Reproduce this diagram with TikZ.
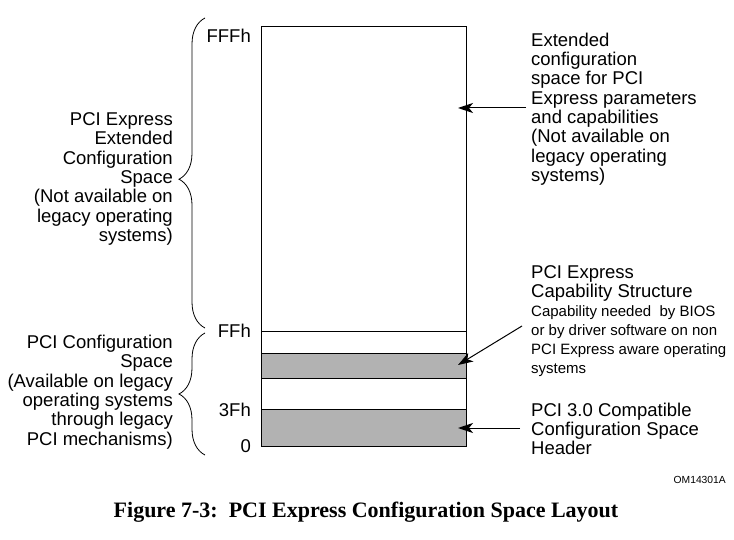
\documentclass[tikz,border=0pt]{standalone}
\usepackage{fontspec}
\setmainfont{Liberation Sans}
\newfontfamily\figserif{Liberation Serif}
\usetikzlibrary{arrows.meta,decorations.pathreplacing}

\begin{document}
\begin{tikzpicture}[x=1pt, y=-1pt,
      every node/.style = {inner sep=0pt, font=\fontsize{18.5}{19.3}\selectfont},
      region/.style = {draw, line width=1pt},
      shaded/.style = {region, fill=black!30},
      addr/.style = {anchor=east},
      lefttext/.style = {anchor=east, align=right},
      righttext/.style = {anchor=west, align=left},
      smalltext/.style = {font=\fontsize{15}{19}\selectfont},
      pointer/.style = {-{Stealth[length=15pt, width=10pt, inset=4pt]}, line width=1pt},
      span/.style = {decorate, line width=0.8pt,
        decoration={brace, amplitude=26pt, aspect=#1}},
      span/.default = 0.5]
    \useasboundingbox (0,0) rectangle (734,540);
    % configuration space map
    \draw[region] (261,27) rectangle (466,446);
    \draw[region] (261,331) -- (466,331);
    \draw[shaded] (261,353) rectangle (466,378);
    \draw[shaded] (261,409) rectangle (466,446);
    % offsets
    \node[addr] (fffh) at (251,36) {FFFh};
    \node[addr] (ffh) at (251,331) {FFh};
    \node[addr] (tfh) at (251,410) {3Fh};
    \node[addr] (zero) at (251,446) {0};
    % braces on the left
    \coordinate (extlow) at (205,328);
    \coordinate (exthigh) at (205,18);
    \coordinate (pcilow) at (205,455);
    \coordinate (pcihigh) at (205,333);
    \draw[span=0.48] (extlow) -- (exthigh);
    \draw[span] (pcilow) -- (pcihigh);
    \node[lefttext] (extspace) at (173,179) {PCI Express\\Extended\\Configuration\\Space\\(Not available on\\legacy operating\\systems)};
    \node[lefttext] (pcispace) at (173,392) {PCI Configuration\\Space\\(Available on legacy\\operating systems \\through legacy\\PCI mechanisms)};
    % notes on the right
    \node[righttext] (extnote) at (531,109) {Extended\\configuration\\space for PCI\\Express parameters\\and capabilities\\(Not available on\\legacy operating\\systems)};
    \node[righttext, anchor=north west] (captitle) at (531,265) {PCI Express\\Capability Structure};
    \node[righttext, smalltext, anchor=north west] (capnote) at (531,305) {Capability needed\ \ by BIOS\\or by driver software on non\\PCI Express aware operating\\systems};
    \node[righttext] (hdrnote) at (531,429) {PCI 3.0 Compatible\\Configuration Space\\Header};
    % pointers
    \coordinate (extfrom) at (526,108);
    \coordinate (extto) at (458,108);
    \coordinate (capfrom) at (522,326);
    \coordinate (capto) at (458,365);
    \coordinate (hdrfrom) at (520,428);
    \coordinate (hdrto) at (458,428);
    \draw[pointer] (extfrom) -- (extto);
    \draw[pointer] (capfrom) -- (capto);
    \draw[pointer] (hdrfrom) -- (hdrto);
    % figure id and caption
    \node[anchor=east, font=\fontsize{10.3}{12}\selectfont] (figid) at (726,480) {OM14301A};
    \node[font=\figserif\bfseries\fontsize{22}{24}\selectfont] (caption) at (366,512) {Figure 7-3:\ \ PCI Express Configuration Space Layout};
  \end{tikzpicture}
\end{document}
